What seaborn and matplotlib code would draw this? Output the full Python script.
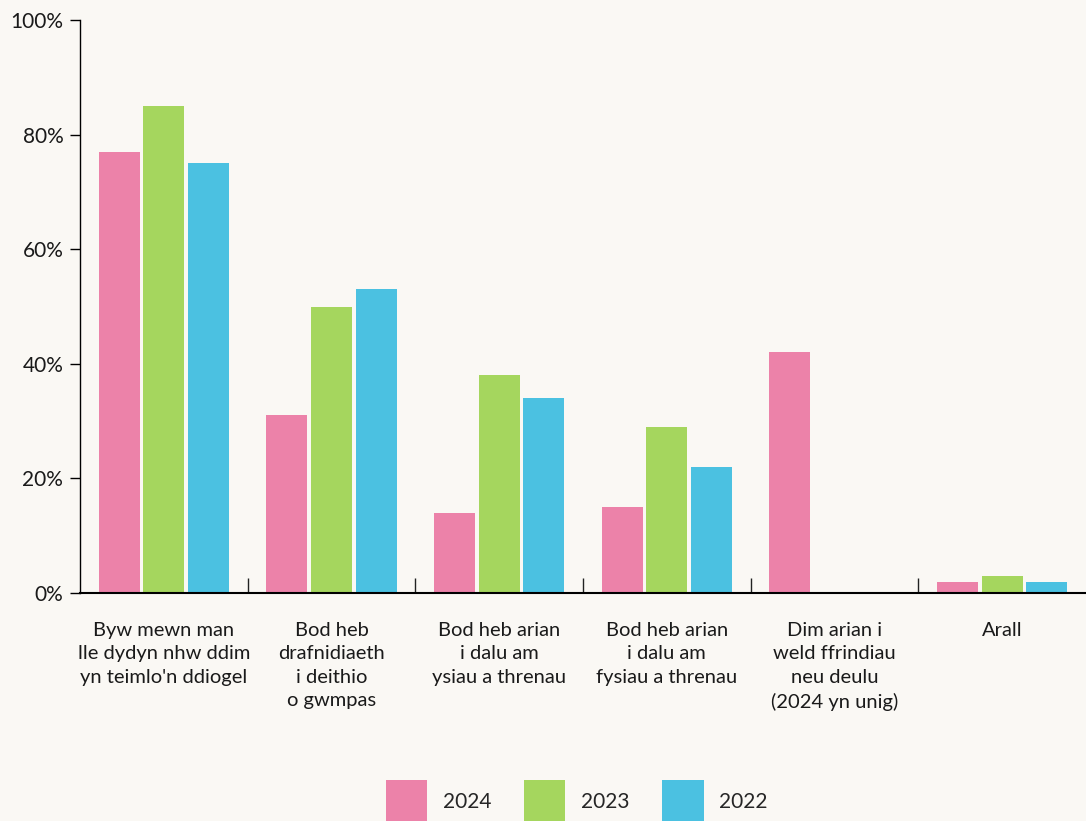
import seaborn as sns
import matplotlib.pyplot as plt
import numpy as np
import pandas as pd
from matplotlib.ticker import FixedLocator, FuncFormatter

categories = [
    "Byw mewn man\nlle dydyn nhw ddim\nyn teimlo'n ddiogel",
    "Bod heb\ndrafnidiaeth\ni deithio\no gwmpas",
    "Bod heb arian\ni dalu am\nysiau a threnau",
    "Bod heb arian\ni dalu am\nfysiau a threnau",
    "Dim arian i\nweld ffrindiau\nneu deulu\n(2024 yn unig)",
    "Arall",
]
years = ["2024", "2023", "2022"]
vals_2024 = [77, 31, 14, 15, 42, 2]
vals_2023 = [85, 50, 38, 29, np.nan, 3]
vals_2022 = [75, 53, 34, 22, np.nan, 2]
colors = ["#EC82A9", "#A5D65E", "#4BC1E1"]

rows = []
for yr, vals in zip(years, [vals_2024, vals_2023, vals_2022]):
    for c, v in zip(categories, vals):
        rows.append({"cat": c, "year": yr, "val": v})
df = pd.DataFrame(rows)

sns.set_style("white")
plt.rcParams['font.family'] = ['Lato', 'DejaVu Sans']
bg = "#FAF8F4"

fig = plt.figure(figsize=(10.86, 8.21), dpi=100, facecolor=bg)
ax = fig.add_axes([80 / 1086, 1 - 593 / 821, 1 - 80 / 1086, (593 - 20) / 821])
ax.set_facecolor(bg)

sns.barplot(data=df, x="cat", y="val", hue="year", hue_order=years,
            palette=colors, width=0.8, gap=0.086, saturation=1,
            linewidth=0, ax=ax)

ax.set_xlim(-0.5, 5.5)
ax.set_ylim(0, 100)
ax.set_xlabel("")
ax.set_ylabel("")
ax.set_yticks([0, 20, 40, 60, 80, 100])
ax.yaxis.set_major_formatter(FuncFormatter(lambda v, p: f"{int(v)}%"))
ax.tick_params(axis="y", left=True, length=7, width=1, color="black",
               labelsize=15, pad=5, labelcolor="#1a1a1a")
ax.tick_params(axis="x", which="major", bottom=False, length=0, labelsize=14.5,
               pad=21, labelcolor="#1a1a1a")
ax.xaxis.set_minor_locator(FixedLocator([0.5, 1.5, 2.5, 3.5, 4.5]))
ax.tick_params(axis="x", which="minor", bottom=True, direction="in", length=11,
               width=1, color="#222222")
for lab in ax.get_xticklabels():
    lab.set_linespacing(1.45)

for s in ["top", "right"]:
    ax.spines[s].set_visible(False)
for s in ["left", "bottom"]:
    ax.spines[s].set_color("black")
ax.spines["left"].set_linewidth(1)
ax.spines["bottom"].set_linewidth(1.5)

handles, labels = ax.get_legend_handles_labels()
ax.get_legend().remove()
fig.legend(handles, labels, loc="upper center", bbox_to_anchor=(0.531, 1 - 780 / 821),
           ncol=3, frameon=False, fontsize=15, handlelength=2.0, handleheight=2.9,
           handletextpad=0.75, columnspacing=1.55, borderpad=0, borderaxespad=0)

fig.savefig("out.png", dpi=100, facecolor=bg)
